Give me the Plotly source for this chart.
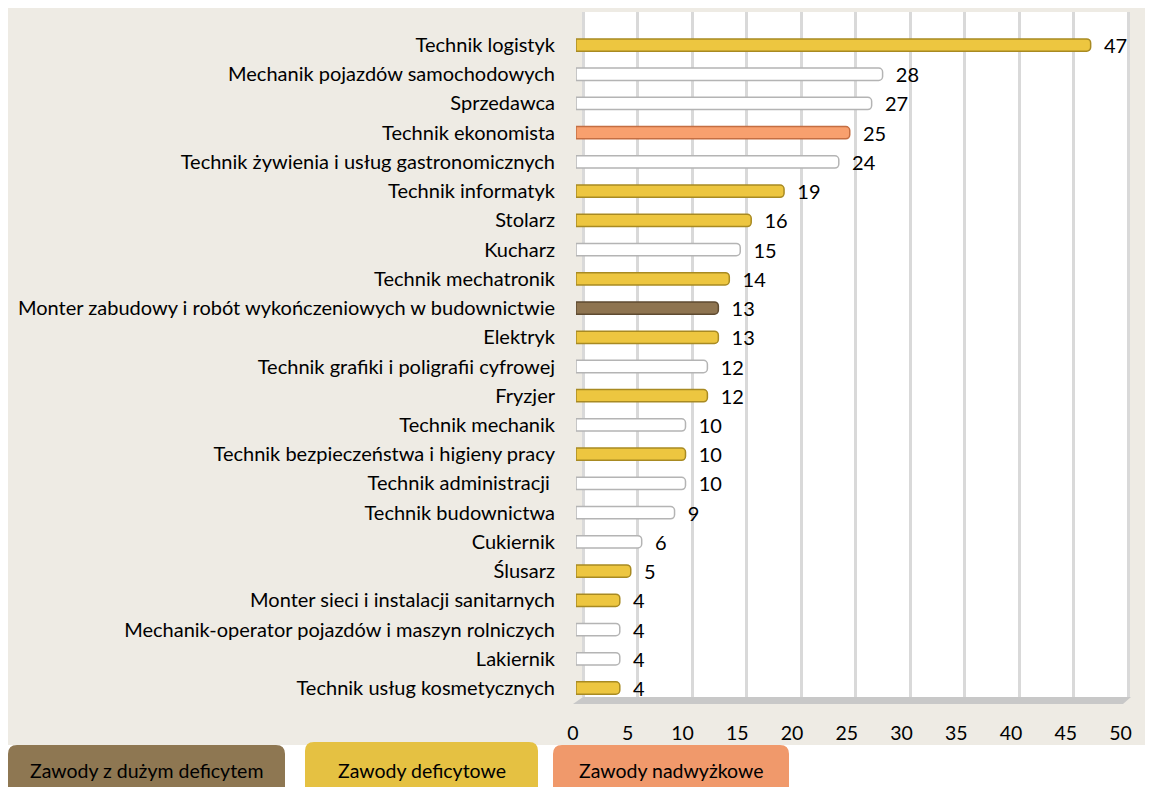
import plotly.graph_objects as go

# data (top to bottom)
occupations = [
    'Technik logistyk', 'Mechanik pojazdów samochodowych', 'Sprzedawca',
    'Technik ekonomista', 'Technik żywienia i usług gastronomicznych',
    'Technik informatyk', 'Stolarz', 'Kucharz', 'Technik mechatronik',
    'Monter zabudowy i robót wykończeniowych w budownictwie', 'Elektryk',
    'Technik grafiki i poligrafii cyfrowej', 'Fryzjer', 'Technik mechanik',
    'Technik bezpieczeństwa i higieny pracy', 'Technik administracji ',
    'Technik budownictwa', 'Cukiernik', 'Ślusarz',
    'Monter sieci i instalacji sanitarnych',
    'Mechanik-operator pojazdów i maszyn rolniczych', 'Lakiernik',
    'Technik usług kosmetycznych',
]
counts = [47, 28, 27, 25, 24, 19, 16, 15, 14, 13, 13, 12, 12, 10, 10, 10, 9, 6, 5, 4, 4, 4, 4]
# category: D = duży deficyt, d = deficytowe, n = nadwyżkowe, o = other
status = ['d', 'o', 'o', 'n', 'o', 'd', 'd', 'o', 'd', 'D', 'd', 'o', 'd', 'o',
          'd', 'o', 'o', 'o', 'd', 'd', 'o', 'o', 'd']

legend_labels = ['Zawody z dużym deficytem', 'Zawody deficytowe', 'Zawody nadwyżkowe']

fill = {'D': '#8E7450', 'd': '#EDC640', 'n': '#F8A06E', 'o': '#FFFFFF'}
edge = {'D': '#5E4A30', 'd': '#A88A22', 'n': '#C46E42', 'o': '#B4B4B4'}

FONT = 'Lato'
FS = 19.5
OFF = 8  # page offset of the plot div
SW, SH = 1153, 787
X0, X1, Y0, Y1 = 576, 1132, 12, 697   # plot domain in screen px
SCALE = 10.95                         # px per unit
ROW0, ROWSTEP = 45, 29.2              # first row centre, row spacing


def px(x):
    return (x - X0) / (X1 - X0)


def py(y):
    return (Y1 - y) / (Y1 - Y0)


def rounded(x0, y0, x1, y1, r):
    rx, ry = r / (X1 - X0), r / (Y1 - Y0)
    a, b, c, d = px(x0), py(y1), px(x1), py(y0)
    return (f'M{a},{b} L{a},{d - ry} Q{a},{d} {a + rx},{d} L{c - rx},{d} '
            f'Q{c},{d} {c},{d - ry} L{c},{b} Z')


fig = go.Figure()
fig.add_trace(go.Bar(
    x=counts, y=occupations, orientation='h',
    marker=dict(color=[fill[s] for s in status], cornerradius=4,
                line=dict(color=[edge[s] for s in status], width=1.5)),
    texttemplate='  %{x}', textposition='outside', constraintext='none',
    textfont=dict(family=FONT, size=20, color='black'),
    cliponaxis=False, showlegend=False,
))
# invisible helper on a shifted axis: draws the back-wall gridlines
fig.add_trace(go.Scatter(x=[0], y=[occupations[0]], xaxis='x2', mode='markers',
                         marker=dict(opacity=0), hoverinfo='skip', showlegend=False))

shapes = [
    dict(type='rect', xref='paper', yref='paper', x0=px(8), x1=px(SW + 5), y0=py(745), y1=py(8),
         fillcolor='#EEEBE4', line_width=0, layer='below'),
    dict(type='rect', xref='paper', yref='paper', x0=px(583), x1=px(1129), y0=py(697), y1=py(12),
         fillcolor='white', line_width=0, layer='below'),
    dict(type='path', xref='paper', yref='paper', layer='below',
         path=f'M{px(573)},{py(704)} L{px(583)},{py(697)} L{px(1131)},{py(697)} '
              f'L{px(1123)},{py(704)} Z',
         fillcolor='#C8C8C8', line_width=0),
]

boxes = [(8, 285, 745, '#8E7752'), (305, 538, 742, '#E5C142'), (553, 789, 745, '#F0996B')]
annotations = []
for (x0, x1, y0, col), lab in zip(boxes, legend_labels):
    shapes.append(dict(type='path', xref='paper', yref='paper', path=rounded(x0, y0, x1, SH + 10, 9),
                       fillcolor=col, line_width=0))
    annotations.append(dict(xref='paper', yref='paper', x=px((x0 + x1) / 2), y=py(770),
                            xanchor='center', yanchor='middle',
                            text=lab, showarrow=False,
                            font=dict(family=FONT, size=FS, color='black')))

fig.update_layout(
    width=SW - OFF, height=SH - OFF,
    margin=dict(l=X0 - OFF, r=SW - X1, t=Y0 - OFF, b=SH - Y1),
    paper_bgcolor='white', plot_bgcolor='rgba(0,0,0,0)',
    bargap=0.58,
    font=dict(family=FONT, size=FS, color='black'),
    shapes=shapes, annotations=annotations,
    xaxis=dict(range=[0, (X1 - X0) / SCALE], tickvals=list(range(0, 51, 5)),
               showgrid=False, zeroline=False, showline=False,
               ticks='outside', ticklen=19, tickcolor='rgba(0,0,0,0)',
               ticklabelshift=-3, tickfont=dict(family=FONT, size=FS)),
    xaxis2=dict(overlaying='x', range=[(X0 - 583) / 10.9, (X1 - 583) / 10.9],
                tickvals=list(range(0, 51, 5)), showticklabels=False,
                showgrid=True, gridcolor='#D9D9D9', gridwidth=3, zeroline=False),
    yaxis=dict(range=[22 + (Y1 - 688) / ROWSTEP, -(ROW0 - Y0) / ROWSTEP],
               showgrid=False, showline=False, zeroline=False,
               ticks='', ticklabelstandoff=20, tickfont=dict(family=FONT, size=20)),
)

fig.write_html('out.html')
